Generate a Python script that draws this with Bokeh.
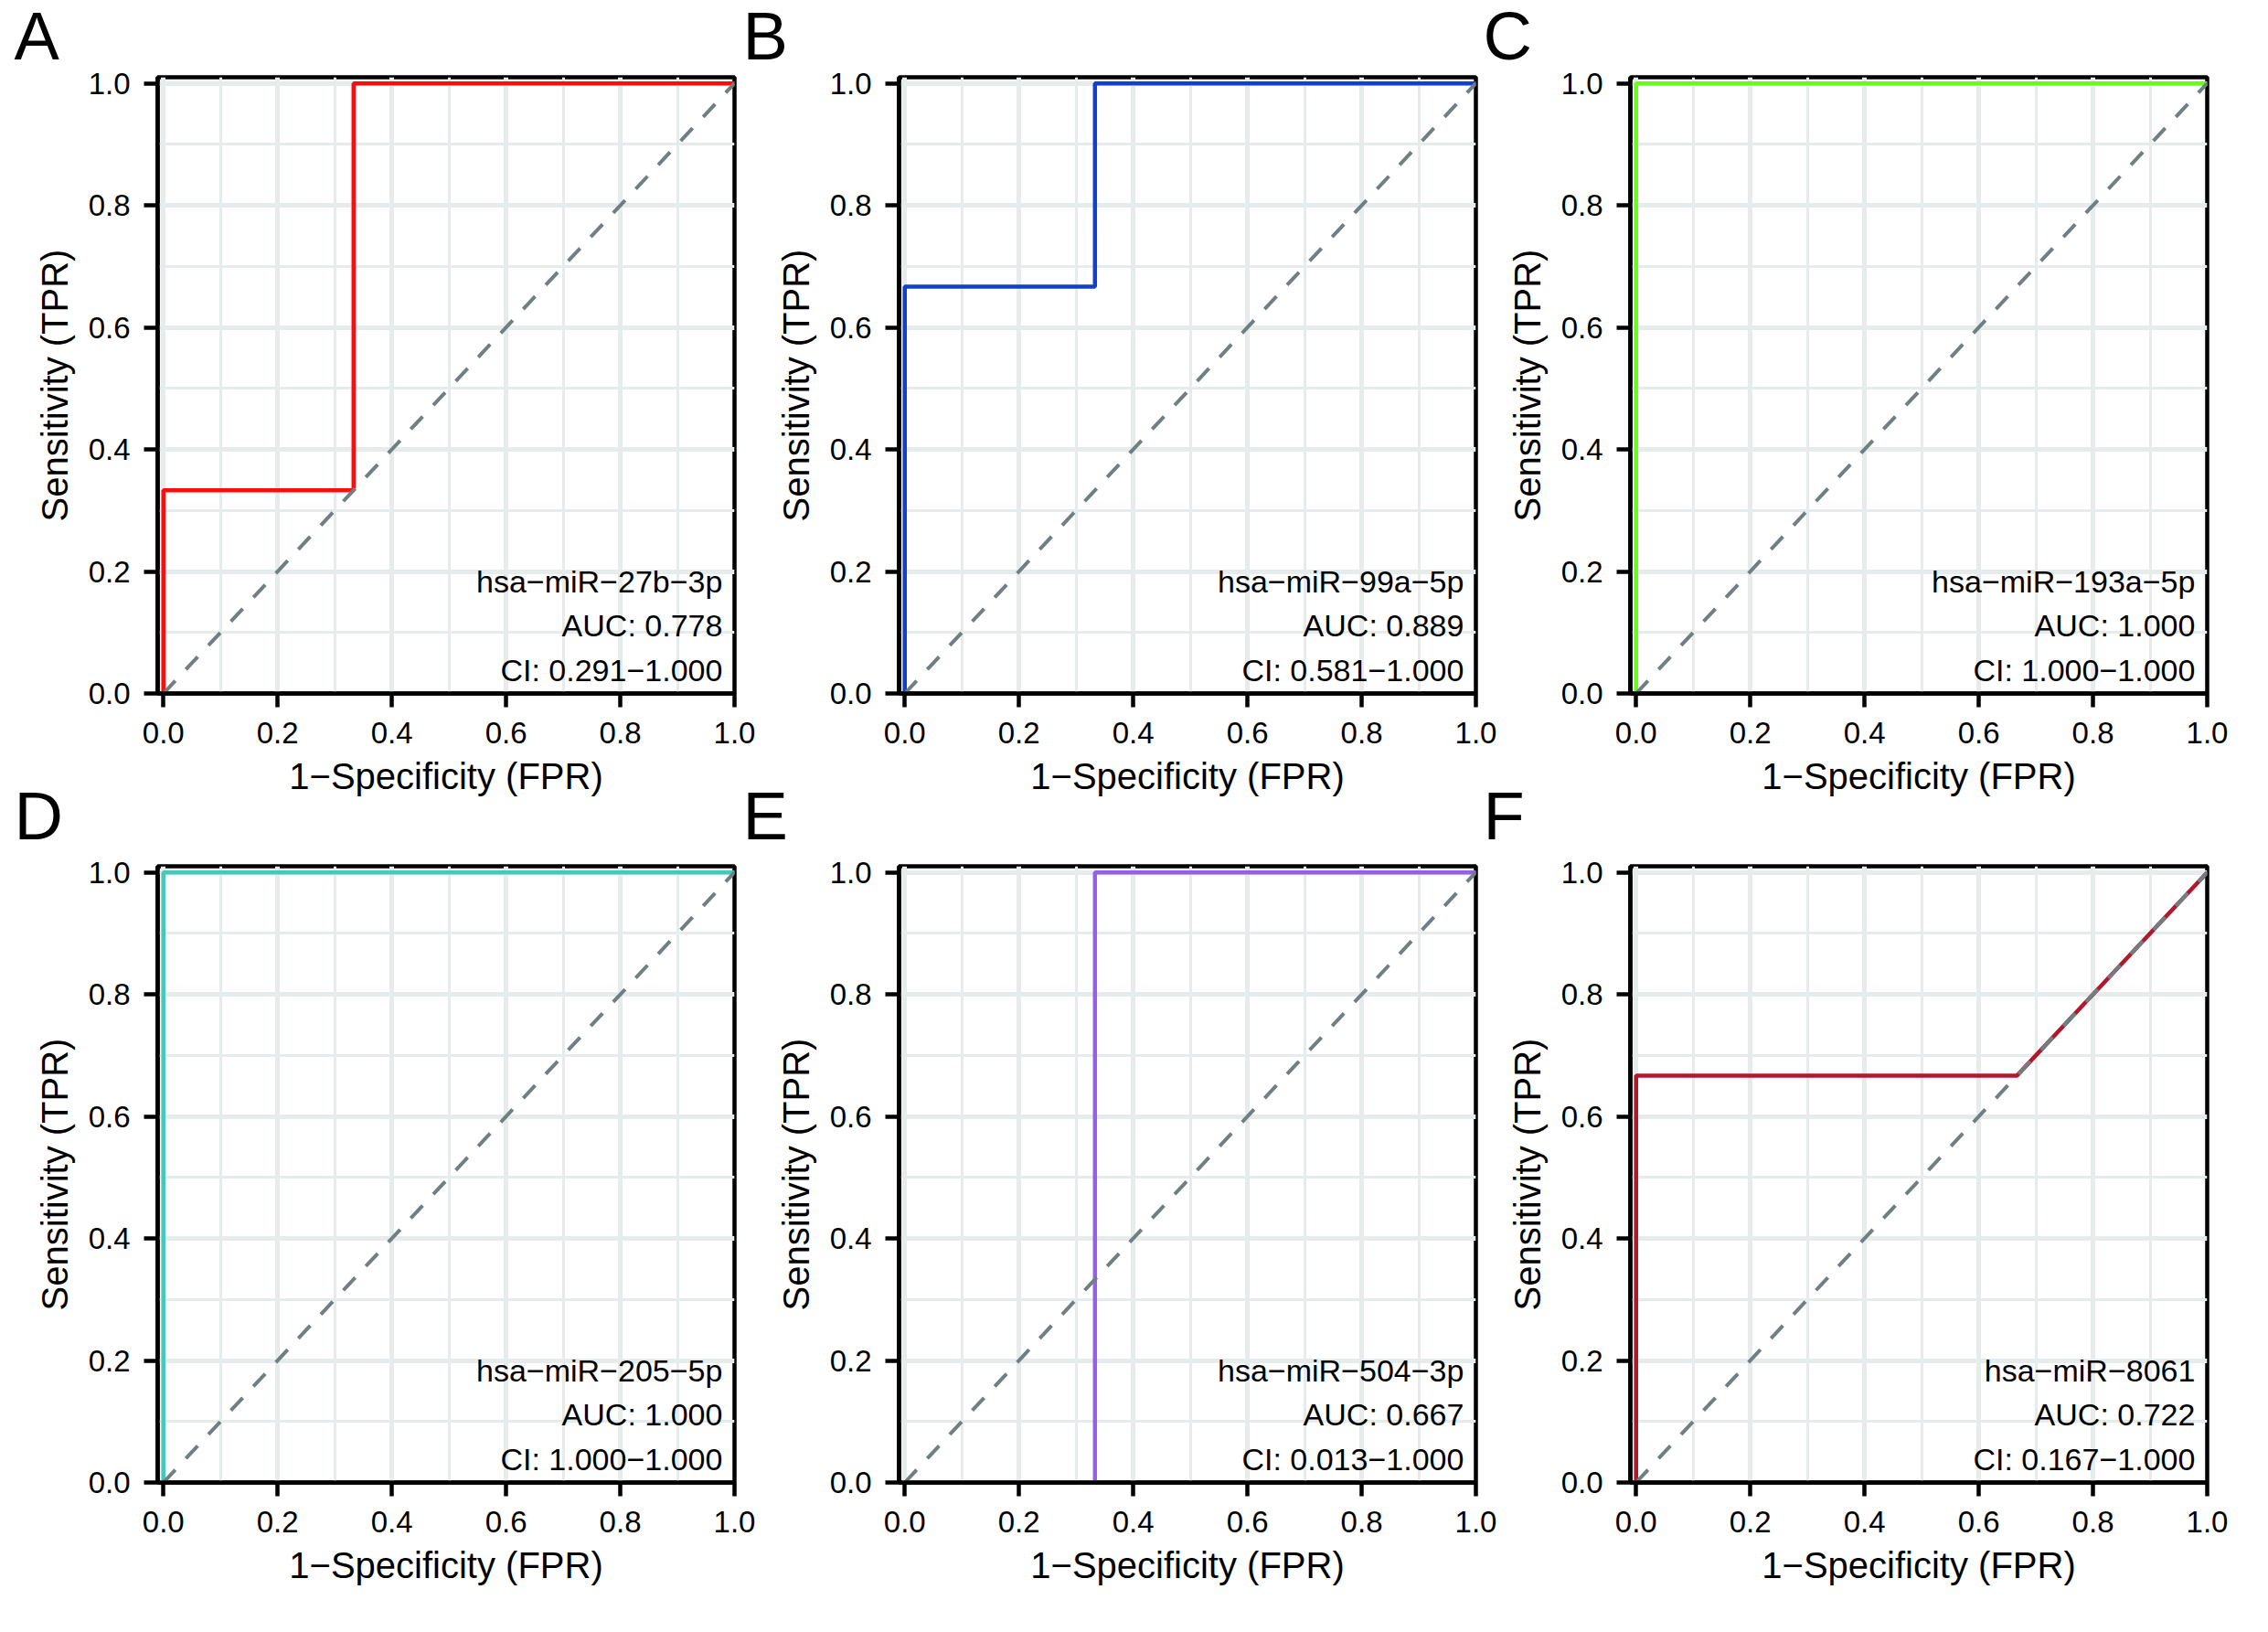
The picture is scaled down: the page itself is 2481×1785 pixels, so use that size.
from bokeh.plotting import figure
from bokeh.models import FixedTicker, NumeralTickFormatter, Title, Range1d
from bokeh.layouts import row, column
from bokeh.embed import file_html
from bokeh.resources import INLINE
from bokeh.core.properties import value

FONT = "Liberation Sans"

# ---------------- data ----------------
panel_letters = ["A", "B", "C", "D", "E", "F"]
mirnas = ["hsa\u2212miR\u221227b\u22123p", "hsa\u2212miR\u221299a\u22125p", "hsa\u2212miR\u2212193a\u22125p",
          "hsa\u2212miR\u2212205\u22125p", "hsa\u2212miR\u2212504\u22123p", "hsa\u2212miR\u22128061"]
auc_values = [0.778, 0.889, 1.000, 1.000, 0.667, 0.722]
ci_low = [0.291, 0.581, 1.000, 1.000, 0.013, 0.167]
ci_high = [1.000, 1.000, 1.000, 1.000, 1.000, 1.000]
curve_colors = ["#FF0D0D", "#1140CC", "#66FF1A", "#45C9BB", "#9461E6", "#B2182B"]

fpr_A = [0.0, 0.0, 0.333, 0.333, 1.0]
tpr_A = [0.0, 0.333, 0.333, 1.0, 1.0]
fpr_B = [0.0, 0.0, 0.333, 0.333, 1.0]
tpr_B = [0.0, 0.667, 0.667, 1.0, 1.0]
fpr_C = [0.0, 0.0, 1.0]
tpr_C = [0.0, 1.0, 1.0]
fpr_D = [0.0, 0.0, 1.0]
tpr_D = [0.0, 1.0, 1.0]
fpr_E = [0.0, 0.333, 0.333, 1.0]
tpr_E = [0.0, 0.0, 1.0, 1.0]
fpr_F = [0.0, 0.0, 0.667, 1.0]
tpr_F = [0.0, 0.667, 0.667, 1.0]
fprs = [fpr_A, fpr_B, fpr_C, fpr_D, fpr_E, fpr_F]
tprs = [tpr_A, tpr_B, tpr_C, tpr_D, tpr_E, tpr_F]

diag_x = [0.0, 1.0]
diag_y = [0.0, 1.0]

major_ticks = [0.0, 0.2, 0.4, 0.6, 0.8, 1.0]
minor_ticks = [0.1, 0.3, 0.5, 0.7, 0.9]

x_label = "1\u2212Specificity (FPR)"
y_label = "Sensitivity (TPR)"

# ---------------- layout params ----------------
col_borders = [(172, 27), (173, 31), (168, 56)]
col_margins = [0, -20, -30]
row_borders = [(96, 147), (117, 149)]
letter_offsets = [-157, -171, -161]
letter_standoff = [8, 27]

GRID = "#E6EBEB"


def make_panel(i):
    r, c = divmod(i, 3)
    ml, mr = col_borders[c]
    mt, mb = row_borders[r]
    p = figure(frame_width=631, frame_height=674,
               x_range=Range1d(-0.01, 1.0), y_range=Range1d(0.0, 1.01),
               output_backend="svg", toolbar_location=None,
               min_border_left=ml, min_border_right=mr,
               min_border_top=mt, min_border_bottom=mb)
    p.border_fill_alpha = 0.0
    p.background_fill_color = "white"
    p.outline_line_color = "black"
    p.outline_line_width = 4.5
    p.outline_line_alpha = 1.0

    p.title = Title(text=panel_letters[i], align="left", vertical_align="bottom",
                    offset=letter_offsets[c], standoff=letter_standoff[r],
                    text_font=FONT, text_font_size="74px", text_font_style="normal",
                    text_color="black")

    ticker = FixedTicker(ticks=major_ticks, minor_ticks=minor_ticks)
    for ax in (p.xaxis[0], p.yaxis[0]):
        ax.ticker = ticker
        ax.formatter = NumeralTickFormatter(format="0.0")
        ax.axis_line_color = "black"
        ax.axis_line_width = 4.5
        ax.major_tick_line_color = "black"
        ax.major_tick_line_width = 4.5
        ax.major_tick_out = 15
        ax.major_tick_in = 0
        ax.minor_tick_line_color = None
        ax.major_label_text_font = FONT
        ax.major_label_text_font_size = "33px"
        ax.major_label_text_color = "black"
        ax.axis_label_text_font = FONT
        ax.axis_label_text_font_size = "40px"
        ax.axis_label_text_font_style = "normal"
        ax.axis_label_text_color = "black"
    p.xaxis.major_label_standoff = 16
    p.xaxis.axis_label_standoff = 11
    p.yaxis.major_label_standoff = 15
    p.yaxis.axis_label_standoff = 12
    p.xaxis.axis_label = x_label
    p.yaxis.axis_label = y_label

    for g in (p.xgrid[0], p.ygrid[0]):
        g.ticker = ticker
        g.grid_line_color = GRID
        g.grid_line_width = 5
        g.minor_grid_line_color = GRID
        g.minor_grid_line_width = 3

    p.line(fprs[i], tprs[i], line_color=curve_colors[i], line_width=4.5)
    p.line(diag_x, diag_y, line_color="#6F7F82", line_width=4, line_dash="19 17")

    p.text(x=[0.979, 0.979, 0.979], y=[0.184, 0.111, 0.0375],
           text=[mirnas[i], "AUC: %.3f" % auc_values[i], "CI: %.3f\u2212%.3f" % (ci_low[i], ci_high[i])],
           text_align="right", text_baseline="alphabetic",
           text_font=value(FONT), text_font_size="34px", text_color="black")
    p.margin = (0, 0, 0, col_margins[c])
    return p


panels = [make_panel(i) for i in range(6)]

r1 = row(panels[0], panels[1], panels[2])
r2 = row(panels[3], panels[4], panels[5], margin=(-75, 0, 0, 0))
layout = column(r1, r2, margin=(-12, 0, 0, 0))

open("out.html", "w").write(file_html(layout, INLINE))
